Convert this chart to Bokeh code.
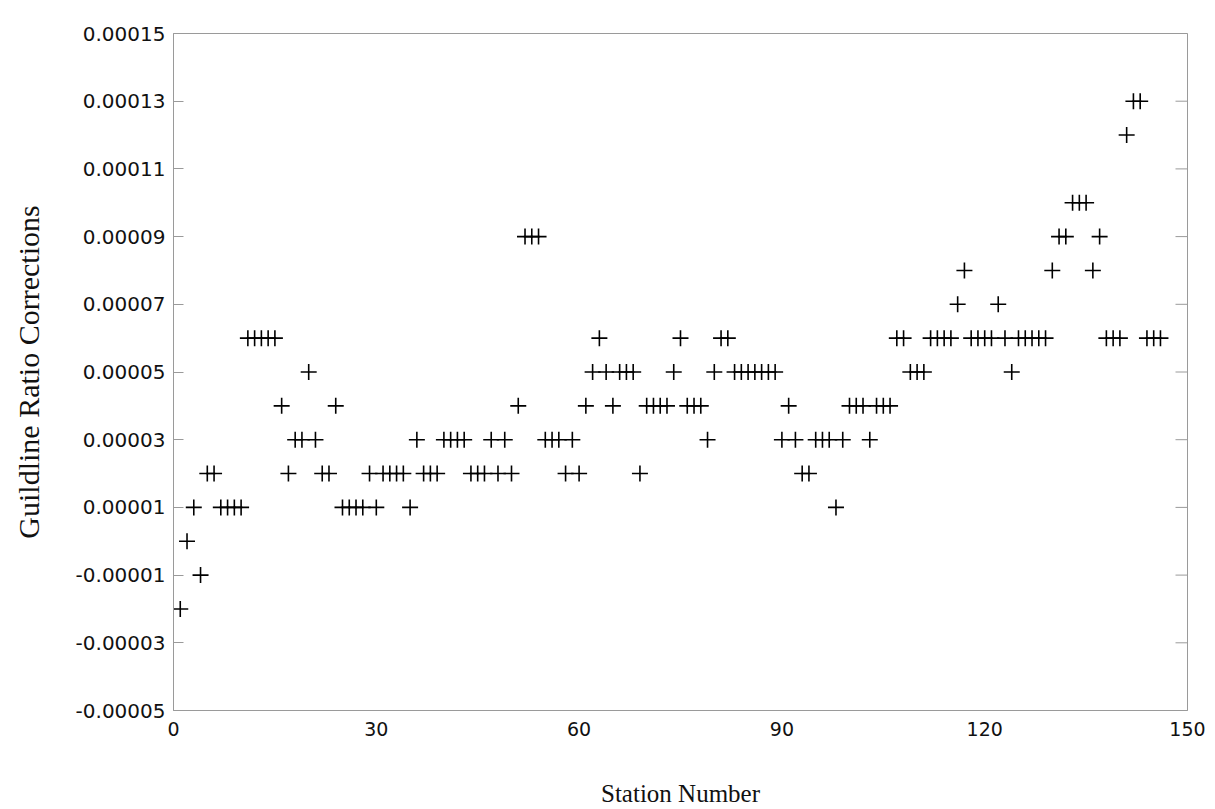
from bokeh.plotting import figure
from bokeh.models import Range1d, FixedTicker, PrintfTickFormatter, ColumnDataSource
from bokeh.embed import file_html
from bokeh.resources import INLINE

# ---- data ----
station = [
    1, 2, 3, 4, 5, 6, 7, 8, 9, 10,
    11, 12, 13, 14, 15, 16, 17, 18, 19, 20,
    21, 22, 23, 24, 25, 26, 27, 28, 29, 30,
    31, 32, 33, 34, 35, 36, 37, 38, 39, 40,
    41, 42, 43, 44, 45, 46, 47, 48, 49, 50,
    51, 52, 53, 54, 55, 56, 57, 58, 59, 60,
    61, 62, 63, 64, 65, 66, 67, 68, 69, 70,
    71, 72, 73, 74, 75, 76, 77, 78, 79, 80,
    81, 82, 83, 84, 85, 86, 87, 88, 89, 90,
    91, 92, 93, 94, 95, 96, 97, 98, 99, 100,
    101, 102, 103, 104, 105, 106, 107, 108, 109, 110,
    111, 112, 113, 114, 115, 116, 117, 118, 119, 120,
    121, 122, 123, 124, 125, 126, 127, 128, 129, 130,
    131, 132, 133, 134, 135, 136, 137, 138, 139, 140,
    141, 142, 143, 144, 145, 146,
]

correction = [
    -0.00002, 0.0, 0.00001, -0.00001, 0.00002, 0.00002, 0.00001, 0.00001, 0.00001, 0.00001,
    0.00006, 0.00006, 0.00006, 0.00006, 0.00006, 0.00004, 0.00002, 0.00003, 0.00003, 0.00005,
    0.00003, 0.00002, 0.00002, 0.00004, 0.00001, 0.00001, 0.00001, 0.00001, 0.00002, 0.00001,
    0.00002, 0.00002, 0.00002, 0.00002, 0.00001, 0.00003, 0.00002, 0.00002, 0.00002, 0.00003,
    0.00003, 0.00003, 0.00003, 0.00002, 0.00002, 0.00002, 0.00003, 0.00002, 0.00003, 0.00002,
    0.00004, 0.00009, 0.00009, 0.00009, 0.00003, 0.00003, 0.00003, 0.00002, 0.00003, 0.00002,
    0.00004, 0.00005, 0.00006, 0.00005, 0.00004, 0.00005, 0.00005, 0.00005, 0.00002, 0.00004,
    0.00004, 0.00004, 0.00004, 0.00005, 0.00006, 0.00004, 0.00004, 0.00004, 0.00003, 0.00005,
    0.00006, 0.00006, 0.00005, 0.00005, 0.00005, 0.00005, 0.00005, 0.00005, 0.00005, 0.00003,
    0.00004, 0.00003, 0.00002, 0.00002, 0.00003, 0.00003, 0.00003, 0.00001, 0.00003, 0.00004,
    0.00004, 0.00004, 0.00003, 0.00004, 0.00004, 0.00004, 0.00006, 0.00006, 0.00005, 0.00005,
    0.00005, 0.00006, 0.00006, 0.00006, 0.00006, 0.00007, 0.00008, 0.00006, 0.00006, 0.00006,
    0.00006, 0.00007, 0.00006, 0.00005, 0.00006, 0.00006, 0.00006, 0.00006, 0.00006, 0.00008,
    0.00009, 0.00009, 0.00010, 0.00010, 0.00010, 0.00008, 0.00009, 0.00006, 0.00006, 0.00006,
    0.00012, 0.00013, 0.00013, 0.00006, 0.00006, 0.00006,
]

x_ticks = [0, 30, 60, 90, 120, 150]
y_ticks = [-0.00005, -0.00003, -0.00001, 0.00001, 0.00003, 0.00005,
           0.00007, 0.00009, 0.00011, 0.00013, 0.00015]

x_title = "Station Number"
y_title = "Guildline Ratio Corrections"

X_MIN, X_MAX = 0, 150
Y_MIN, Y_MAX = -0.00005, 0.00015

# ---- figure ----
FRAME = "#9a9a9a"

p = figure(
    width=1215, height=809,
    output_backend="svg", toolbar_location=None,
    x_range=Range1d(X_MIN, X_MAX), y_range=Range1d(Y_MIN, Y_MAX),
    min_border_left=173, min_border_right=28,
    min_border_top=33, min_border_bottom=98,
    background_fill_color="white", border_fill_color="white",
)
p.outline_line_color = FRAME
p.outline_line_width = 1
p.grid.visible = False

# inward tick marks on the right frame edge (half of each dash is clipped by the frame)
rt = ColumnDataSource(dict(x=[X_MAX] * len(y_ticks), y=y_ticks))
p.scatter("x", "y", source=rt, marker="dash", size=24,
          line_color=FRAME, line_width=1)

src = ColumnDataSource(dict(x=station, y=correction))
p.scatter("x", "y", source=src, marker="cross", size=16,
          line_color="black", line_width=1.6)

# x axis
xa = p.xaxis[0]
xa.ticker = FixedTicker(ticks=x_ticks)
xa.axis_line_color = FRAME
xa.major_tick_line_color = FRAME
xa.major_tick_in = 0
xa.major_tick_out = 0
xa.minor_tick_line_color = None
xa.major_label_text_font = "DejaVu Sans"
xa.major_label_text_font_size = "19px"
xa.major_label_text_color = "#111111"
xa.major_label_standoff = 11
xa.axis_label = x_title
xa.axis_label_text_font = "Liberation Serif"
xa.axis_label_text_font_style = "normal"
xa.axis_label_text_font_size = "25px"
xa.axis_label_text_color = "#111111"
xa.axis_label_standoff = 41

# y axis
ya = p.yaxis[0]
ya.ticker = FixedTicker(ticks=y_ticks)
ya.formatter = PrintfTickFormatter(format="%.5f")
ya.axis_line_color = FRAME
ya.major_tick_line_color = FRAME
ya.major_tick_in = 10
ya.major_tick_out = 0
ya.minor_tick_line_color = None
ya.major_label_text_font = "DejaVu Sans"
ya.major_label_text_font_size = "20px"
ya.major_label_text_color = "#111111"
ya.major_label_standoff = 8
ya.axis_label = y_title
ya.axis_label_text_font = "Liberation Serif"
ya.axis_label_text_font_style = "normal"
ya.axis_label_text_font_size = "30px"
ya.axis_label_text_color = "#111111"
ya.axis_label_standoff = 28

open("out.html", "w").write(file_html(p, INLINE))
